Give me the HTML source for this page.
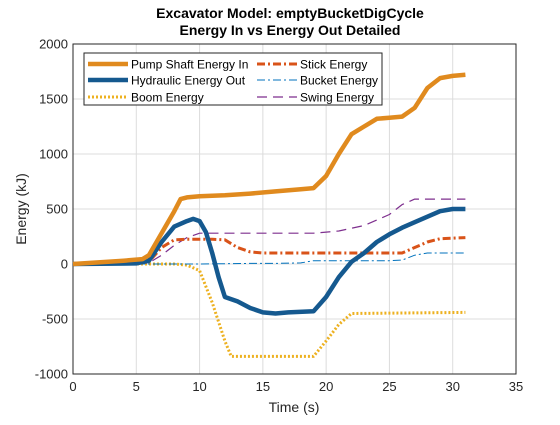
<!DOCTYPE html>
<html><head><meta charset="utf-8"><style>
body{margin:0;background:#fff;width:560px;height:420px;overflow:hidden}
svg{font-family:"Liberation Sans",sans-serif}
</style></head><body>
<svg id="c" width="560" height="420"></svg>
<script>
const xTicks=[0,5,10,15,20,25,30,35];
const yTicks=[-1000,-500,0,500,1000,1500,2000];
const pumpT=[0,2,4,5.5,6,7,8,8.5,9,10,12,14,16,18,19,20,21,22,23,24,25,26,27,28,29,30,31];
const pumpV=[0,15,30,45,80,280,480,590,605,615,625,640,660,680,690,800,1000,1180,1250,1320,1330,1340,1420,1600,1690,1710,1720];
const hydT=[0,5,6,7,8,9,9.5,10,10.5,11,11.5,12,13,14,15,16,17,19,20,21,22,23,24,25,26,27,28,29,30,31];
const hydV=[0,5,30,200,340,390,410,390,290,100,-120,-300,-340,-400,-440,-450,-440,-430,-300,-120,20,100,200,270,330,380,430,480,500,500];
const boomT=[0,8,9,10,11,12,12.5,19,20,21,22,31];
const boomV=[0,0,-10,-60,-350,-700,-840,-840,-700,-550,-450,-440];
const stickT=[0,5,6,7,8,9,11,12,13,14,15,20,26,27,28,29,31];
const stickV=[0,5,20,150,220,225,225,220,150,110,100,100,100,150,200,230,240];
const bucketT=[0,10,14,16,18,19,25,26,27,28,31];
const bucketV=[0,0,5,5,10,30,30,35,80,100,100];
const swingT=[0,5,6,7,8,9,10,12,19,21,23,24,25,26,27,31];
const swingV=[0,0,10,80,170,240,280,280,280,300,350,400,450,540,590,590];
const X0=73,X1=516,Y0=374,Y1=44;
const sx=v=>X0+(v-0)/35*(X1-X0);
const sy=v=>Y0-(v+1000)/3000*(Y0-Y1);
const svg=document.getElementById('c');const NS='http://www.w3.org/2000/svg';
function mk(t,a,p){const e=document.createElementNS(NS,t);for(const k in a)e.setAttribute(k,a[k]);(p||svg).appendChild(e);return e;}
xTicks.forEach(t=>{const l=mk('line',{x1:sx(t),x2:sx(t),y1:Y1,y2:Y0,stroke:'#dcdcdc'});


const tx=mk('text',{x:sx(t),y:Y0+17,'text-anchor':'middle','font-size':13,fill:'#262626'});tx.textContent=t;

});
yTicks.forEach(t=>{const l=mk('line',{x1:X0,x2:X1,y1:sy(t),y2:sy(t),stroke:'#dcdcdc'});


const tx=mk('text',{x:X0-5,y:sy(t)+4.5,'text-anchor':'end','font-size':13,fill:'#262626'});tx.textContent=t;

});
const ax=mk('rect',{x:X0,y:Y1,width:X1-X0,height:Y0-Y1,fill:'none',stroke:'#262626','stroke-width':1});


function series(T,V,st,name){const d=T.map((t,i)=>(i?'L':'M')+sx(t).toFixed(1)+','+sy(V[i]).toFixed(1)).join('');
const p=mk('path',Object.assign({d:d,fill:'none','stroke-linejoin':'round'},st));

}
series(boomT,boomV,{stroke:'#EDB120','stroke-width':3,'stroke-dasharray':'2,2'},'boom-energy-line');
series(bucketT,bucketV,{stroke:'#0072BD','stroke-width':1,'stroke-dasharray':'8,3,2,3'},'bucket-energy-line');
series(swingT,swingV,{stroke:'#7E2F8E','stroke-width':1.2,'stroke-dasharray':'10,6'},'swing-energy-line');
series(stickT,stickV,{stroke:'#D95319','stroke-width':3,'stroke-dasharray':'8,3,2,3'},'stick-energy-line');
series(hydT,hydV,{stroke:'#15598F','stroke-width':4.5},'hydraulic-energy-line');
series(pumpT,pumpV,{stroke:'#E08A1E','stroke-width':4.5},'pump-shaft-energy-line');
</script>
<svg width="560" height="420" style="position:absolute;left:0;top:0">
<text x="290" y="18" text-anchor="middle" font-size="14" font-weight="bold" fill="#000">Excavator Model: emptyBucketDigCycle</text>
<text x="290" y="35" text-anchor="middle" font-size="14" font-weight="bold" fill="#000">Energy In vs Energy Out Detailed</text>
<text x="294" y="412" text-anchor="middle" font-size="14" fill="#262626">Time (s)</text>
<text transform="translate(26,209) rotate(-90)" text-anchor="middle" font-size="14" fill="#262626">Energy (kJ)</text>
<g>
<rect x="84" y="53" width="298" height="52" fill="#fff" stroke="#262626" stroke-width="1"/>
<line x1="88" y1="64" x2="128" y2="64" stroke="#E08A1E" stroke-width="4.5"/>
<text x="131" y="68.5" font-size="12" fill="#000">Pump Shaft Energy In</text>
<line x1="88" y1="80" x2="128" y2="80" stroke="#15598F" stroke-width="4.5"/>
<text x="131" y="84.5" font-size="12" fill="#000">Hydraulic Energy Out</text>
<line x1="88" y1="97" x2="128" y2="97" stroke="#EDB120" stroke-width="3" stroke-dasharray="2,2"/>
<text x="131" y="101.5" font-size="12" fill="#000">Boom Energy</text>
<line x1="257" y1="64" x2="297" y2="64" stroke="#D95319" stroke-width="3" stroke-dasharray="8,3,2,3"/>
<text x="300" y="68.5" font-size="12" fill="#000">Stick Energy</text>
<line x1="257" y1="80" x2="297" y2="80" stroke="#0072BD" stroke-width="1" stroke-dasharray="8,3,2,3"/>
<text x="300" y="84.5" font-size="12" fill="#000">Bucket Energy</text>
<line x1="257" y1="97" x2="297" y2="97" stroke="#7E2F8E" stroke-width="1.2" stroke-dasharray="10,6"/>
<text x="300" y="101.5" font-size="12" fill="#000">Swing Energy</text>
</g>
</svg>
</body></html>
